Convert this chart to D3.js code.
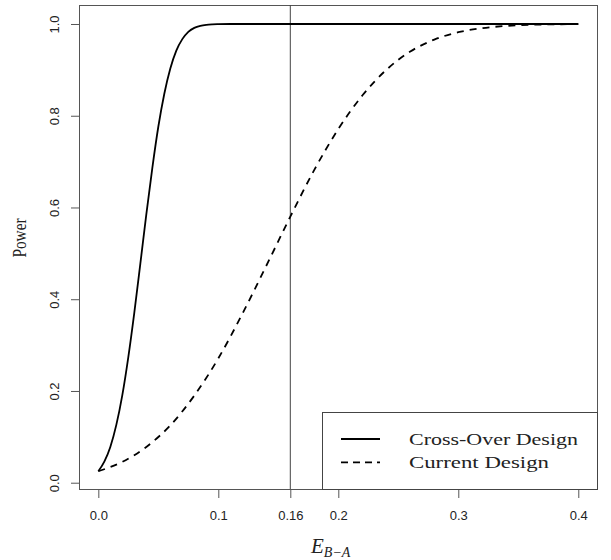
<!DOCTYPE html>
<html>
<head>
<meta charset="utf-8">
<script src="https://cdn.jsdelivr.net/npm/d3@7"></script>
<style>
  body { margin: 0; background: #fff; }
  svg { display: block; }
</style>
</head>
<body>
<svg id="chart" width="611" height="560"></svg>
<script>
// effect difference E_{B-A} and power
const crossX = [0, 0.005, 0.01, 0.015, 0.02, 0.025, 0.03, 0.035, 0.04, 0.045, 0.05,
  0.055, 0.06, 0.065, 0.07, 0.075, 0.08, 0.085, 0.09, 0.095, 0.1, 0.11, 0.2, 0.3, 0.4];
const crossPower = [0.025, 0.046, 0.078, 0.126, 0.191, 0.274, 0.371, 0.477, 0.585, 0.686, 0.776,
  0.848, 0.903, 0.942, 0.967, 0.983, 0.9915, 0.996, 0.9983, 0.9993, 0.9997, 1.0, 1.0, 1.0, 1.0];

const currentX = [0, 0.02, 0.04, 0.06, 0.08, 0.1, 0.12, 0.14, 0.16, 0.18, 0.2,
  0.22, 0.24, 0.26, 0.28, 0.3, 0.32, 0.34, 0.36, 0.38, 0.4];
const currentPower = [0.025, 0.0455, 0.078, 0.125, 0.190, 0.271, 0.368, 0.473, 0.580, 0.682, 0.771,
  0.844, 0.900, 0.940, 0.966, 0.982, 0.991, 0.9958, 0.9982, 0.9993, 0.9997];

const xTicks = [0, 0.1, 0.16, 0.2, 0.3, 0.4];
const xTickLabels = ['0.0', '0.1', '0.16', '0.2', '0.3', '0.4'];
const yTicks = [0, 0.2, 0.4, 0.6, 0.8, 1.0];
const yTickLabels = ['0.0', '0.2', '0.4', '0.6', '0.8', '1.0'];
const refLine = 0.16;
const legendNames = ['Cross-Over Design', 'Current Design'];

const box = { left: 79, right: 597, top: 5, bottom: 489 };

const svg = d3.select('#chart');

const x = d3.scaleLinear()
  .domain([-0.0161, 0.4156])
  .range([box.left, box.right]);

const y = d3.scaleLinear()
  .domain([-0.0137, 1.0414])
  .range([box.bottom, box.top]);

// axes
const xAxis = d3.axisBottom(x)
  .tickValues(xTicks)
  .tickFormat((d, i) => xTickLabels[i])
  .tickSize(9)
  .tickPadding(14);

const yAxis = d3.axisLeft(y)
  .tickValues(yTicks)
  .tickFormat((d, i) => yTickLabels[i])
  .tickSize(8)
  .tickPadding(11);

const gx = svg.append('g')
  .attr('transform', 'translate(0,' + box.bottom + ')')
  .call(xAxis);
gx.select('.domain')
  .attr('d', 'M' + x(0) + ',0.5H' + x(0.4));

const gy = svg.append('g')
  .attr('transform', 'translate(' + box.left + ',0)')
  .call(yAxis);
gy.select('.domain')
  .attr('d', 'M0.5,' + y(0) + 'V' + y(1));

svg.selectAll('.domain').attr('stroke', '#333').attr('stroke-width', 1);
svg.selectAll('.tick line').attr('stroke', '#555').attr('stroke-width', 1);
svg.selectAll('.tick text')
  .attr('fill', '#222')
  .style('font-family', '"Liberation Sans", Arial, sans-serif')
  .style('font-size', '13px');

gx.selectAll('.tick text').attr('dy', '0.71em').attr('y', 22);
gy.selectAll('.tick text')
  .attr('x', 0)
  .attr('y', 0)
  .attr('dy', 0)
  .style('text-anchor', 'middle')
  .attr('transform', 'translate(-20,0) rotate(-90)');

// plot box
svg.append('rect')
  .attr('x', box.left + 0.5)
  .attr('y', box.top + 0.5)
  .attr('width', box.right - box.left)
  .attr('height', box.bottom - box.top)
  .attr('fill', 'none')
  .attr('stroke', '#555')
  .attr('stroke-width', 1);

// reference line at 0.16
svg.append('line')
  .attr('x1', x(refLine)).attr('x2', x(refLine))
  .attr('y1', box.top).attr('y2', box.bottom)
  .attr('stroke', '#444')
  .attr('stroke-width', 1);

const line = d3.line()
  .x(d => x(d[0]))
  .y(d => y(d[1]))
  .curve(d3.curveMonotoneX);

svg.append('path')
  .datum(crossX.map((d, i) => [d, crossPower[i]]))
  .attr('d', line)
  .attr('fill', 'none')
  .attr('stroke', '#000')
  .attr('stroke-width', 1.8);

svg.append('path')
  .datum(currentX.map((d, i) => [d, currentPower[i]]))
  .attr('d', line)
  .attr('fill', 'none')
  .attr('stroke', '#000')
  .attr('stroke-width', 1.8)
  .attr('stroke-dasharray', '7,6');

// legend
const leg = svg.append('g');
leg.append('rect')
  .attr('x', 322.5).attr('y', 412.5)
  .attr('width', box.right - 322.5 + 0.5).attr('height', box.bottom - 412.5 + 0.5)
  .attr('fill', '#fff')
  .attr('stroke', '#444')
  .attr('stroke-width', 1);

const legDash = [null, '7,5'];
const legWidths = [169, 140];
legendNames.forEach((name, i) => {
  const ly = 439 + i * 23.3;
  leg.append('line')
    .attr('x1', 341).attr('x2', 380)
    .attr('y1', ly).attr('y2', ly)
    .attr('stroke', '#000')
    .attr('stroke-width', 1.8)
    .attr('stroke-dasharray', legDash[i]);
  leg.append('text')
    .attr('x', 409).attr('y', ly + 6)
    .attr('textLength', legWidths[i])
    .attr('lengthAdjust', 'spacingAndGlyphs')
    .style('font-family', '"Liberation Serif", "Times New Roman", serif')
    .style('font-size', '17px')
    .attr('fill', '#222')
    .text(name);
});

// axis titles
svg.append('text')
  .attr('transform', 'translate(26,238) rotate(-90)')
  .attr('text-anchor', 'middle')
  .attr('textLength', 39)
  .attr('lengthAdjust', 'spacingAndGlyphs')
  .style('font-family', '"Liberation Serif", "Times New Roman", serif')
  .style('font-size', '18px')
  .attr('fill', '#222')
  .text('Power');

const xt = svg.append('text')
  .attr('x', 311).attr('y', 553)
  .style('font-family', '"Liberation Serif", "Times New Roman", serif')
  .attr('fill', '#222');
xt.append('tspan')
  .style('font-style', 'italic')
  .style('font-size', '21px')
  .text('E');
xt.append('tspan')
  .attr('dy', 4)
  .style('font-style', 'italic')
  .style('font-size', '14px')
  .text('B\u2212A');
</script>
</body>
</html>
